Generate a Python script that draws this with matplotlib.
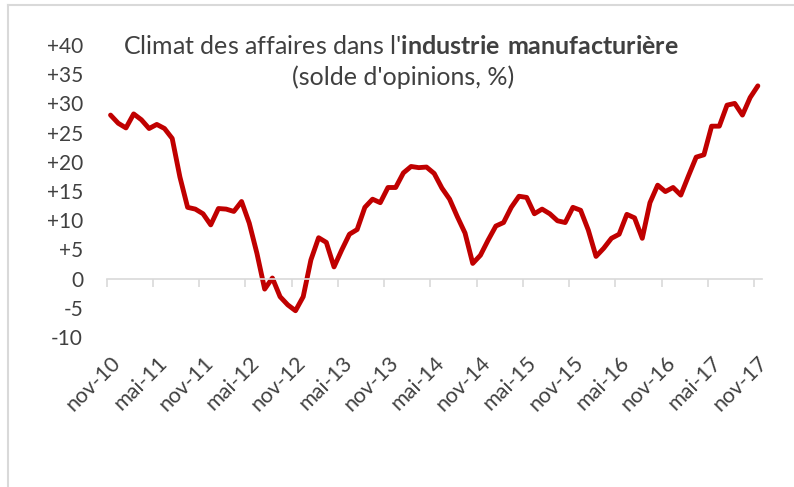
import numpy as np
import matplotlib
matplotlib.use('Agg')
import matplotlib.pyplot as plt
from matplotlib.lines import Line2D

# Solde d'opinions mensuel, nov-10 -> nov-17
solde = [28.0, 26.6, 25.8, 28.2, 27.2, 25.7, 26.4, 25.7, 24.0, 17.4,
         12.2, 11.9, 11.1, 9.2, 12.0, 11.9, 11.5, 13.2, 9.5, 4.3,
         -1.8, 0.1, -3.1, -4.5, -5.5, -3.1, 3.2, 7.0, 6.2, 2.0,
         4.9, 7.6, 8.4, 12.2, 13.6, 13.0, 15.6, 15.6, 18.1, 19.2,
         19.0, 19.1, 18.0, 15.5, 13.6, 10.6, 7.8, 2.6, 4.0, 6.6,
         9.0, 9.6, 12.2, 14.1, 13.9, 11.1, 11.9, 11.1, 9.9, 9.6,
         12.2, 11.7, 8.3, 3.8, 5.2, 6.9, 7.6, 11.0, 10.4, 6.9,
         13.0, 16.0, 14.9, 15.6, 14.3, 17.6, 20.8, 21.2, 26.1, 26.1,
         29.7, 30.0, 28.0, 31.0, 33.0]
xlabels = ['nov-10', 'mai-11', 'nov-11', 'mai-12', 'nov-12', 'mai-13', 'nov-13',
           'mai-14', 'nov-14', 'mai-15', 'nov-15', 'mai-16', 'nov-16', 'mai-17', 'nov-17']
yticks = [-10, -5, 0, 5, 10, 15, 20, 25, 30, 35, 40]

plt.rcParams['font.family'] = ['Lato', 'DejaVu Sans']
plt.rcParams['mathtext.fontset'] = 'custom'
plt.rcParams['mathtext.rm'] = 'Lato'
plt.rcParams['mathtext.bf'] = 'Lato:bold'
txt = '#404040'
grey = '#D9D9D9'

fig = plt.figure(figsize=(7.94, 4.87), dpi=100)
ax = fig.add_axes([106.7 / 794, 1 - 337 / 487, 655 / 794, 292 / 487])

n = len(solde)
x = np.arange(n)
ax.plot(x, solde, color='#C00000', lw=3.5, solid_joinstyle='round', solid_capstyle='round')

ax.set_xlim(-0.5, n - 0.5)
ax.set_ylim(-10, 40)

# y axis
ax.set_yticks(yticks)
ax.set_yticklabels([('+%d' % v) if v > 0 else str(v) for v in yticks])
ax.tick_params(axis='y', length=0, pad=17, labelsize=15, labelcolor=txt)
for s in ['left', 'right', 'top']:
    ax.spines[s].set_visible(False)

# x axis line at zero with tick marks between categories
ax.spines['bottom'].set_position(('data', 0))
ax.spines['bottom'].set_color(grey)
ax.spines['bottom'].set_linewidth(1.2)
ax.set_xticks(np.arange(-0.5, n, 6))
ax.set_xticklabels([])
ax.tick_params(axis='x', length=6, width=1.2, color=grey, direction='out')

# labels at the bottom of the plot area
sec = ax.secondary_xaxis(0)
sec.set_xticks(np.arange(0, n, 6))
sec.set_xticklabels(xlabels, rotation=45, ha='right', va='top', rotation_mode='anchor')
sec.tick_params(length=0, pad=11, labelsize=15.5, labelcolor=txt)
sec.spines['bottom'].set_visible(False)

# title inside the chart
fig.text(401 / 794, 1 - 46 / 487,
         r"Climat des affaires dans l'$\mathbf{industrie\ manufacturière}$",
         ha='center', va='center', fontsize=18, color=txt)
fig.text(403 / 794, 1 - 77 / 487, "(solde d'opinions, %)",
         ha='center', va='center', fontsize=18, color=txt)

# frame of the chart area
fig.add_artist(Line2D([8 / 794, 8 / 794], [0, 1 - 5 / 487], color=grey, lw=1.5))
fig.add_artist(Line2D([8 / 794, 1], [1 - 5 / 487, 1 - 5 / 487], color=grey, lw=1.5))

fig.savefig('out.png', dpi=100)
